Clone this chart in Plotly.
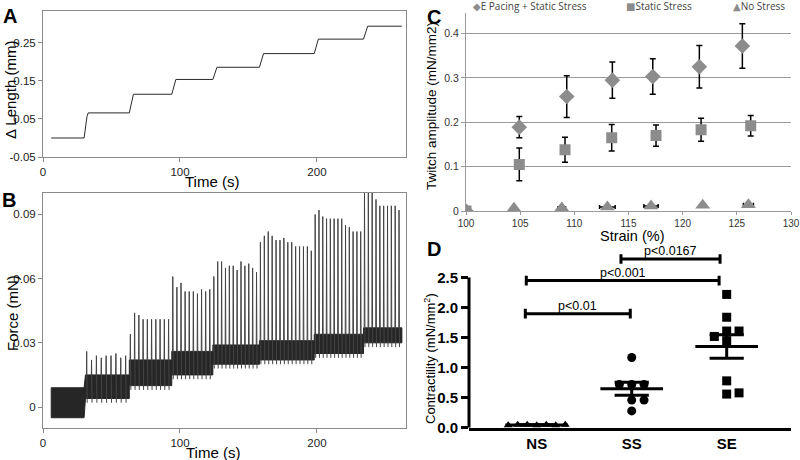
import numpy as np
import plotly.graph_objects as go

W, H = 800, 460
FONT = "Liberation Sans, Arial, sans-serif"

# ---------------- Panel A data ----------------
a_t_start = 6
a_t_end = 262
a_step_times = [30, 63, 94, 124, 158, 198, 234]
a_levels = [0.0, 0.066, 0.115, 0.154, 0.186, 0.222, 0.260, 0.294]

# ---------------- Panel B data ----------------
b_seg_start = [6, 31, 63, 94, 124, 158, 198, 234]
b_seg_end = [30, 63, 94, 124, 158, 198, 234, 262]
b_band_lo = [-0.005, 0.004, 0.010, 0.015, 0.020, 0.022, 0.025, 0.030]
b_band_hi = [0.009, 0.015, 0.022, 0.026, 0.029, 0.031, 0.034, 0.037]
b_peaks = [
    [],
    [0.026, 0.022, 0.024, 0.023, 0.024, 0.024, 0.025, 0.023, 0.024],
    [0.034, 0.044, 0.043, 0.041, 0.041, 0.041, 0.041, 0.041, 0.041, 0.041],
    [0.061, 0.056, 0.058, 0.054, 0.054, 0.054, 0.053, 0.055, 0.054, 0.055],
    [0.061, 0.068, 0.068, 0.065, 0.066, 0.066, 0.064, 0.068, 0.066, 0.067, 0.065, 0.063],
    [0.077, 0.080, 0.082, 0.080, 0.078, 0.078, 0.079, 0.077, 0.077, 0.075, 0.075, 0.075, 0.075, 0.073],
    [0.090, 0.092, 0.089, 0.088, 0.088, 0.088, 0.088, 0.088, 0.085, 0.084, 0.082, 0.082, 0.082],
    [0.104, 0.104, 0.104, 0.097, 0.094, 0.094, 0.094, 0.094, 0.094, 0.092],
]

# ---------------- Panel C data ----------------
c_ep_strain = [100, 104.92, 109.3, 113.51, 117.24, 121.54, 125.51]
c_ep_amp = [0.0, 0.189, 0.258, 0.295, 0.303, 0.325, 0.372]
c_ep_err = [0.0, 0.024, 0.047, 0.041, 0.040, 0.048, 0.050]

c_ss_strain = [100, 104.92, 109.14, 113.45, 117.54, 121.70, 126.28]
c_ss_amp = [0.0, 0.105, 0.138, 0.165, 0.170, 0.183, 0.192]
c_ss_err = [0.0, 0.037, 0.028, 0.030, 0.024, 0.026, 0.023]

c_ns_strain = [104.43, 108.84, 113.05, 117.08, 121.85, 126.07]
c_ns_amp = [0.006, 0.007, 0.009, 0.011, 0.013, 0.014]
c_ns_xerr = [0.0, 0.35, 0.72, 0.66, 0.2, 0.46]
c_ns_yerr = [0.0, 0.003, 0.003, 0.003, 0.002, 0.003]

c_legend = ["E Pacing + Static Stress", "Static Stress", "No Stress"]

# ---------------- Panel D data ----------------
d_groups = ["NS", "SS", "SE"]
d_ns = [0.04, 0.05, 0.05, 0.04, 0.05, 0.05, 0.04]
d_ss = [1.17, 0.72, 0.72, 0.72, 0.46, 0.46, 0.28]
d_se = [2.22, 1.84, 1.61, 1.61, 1.45, 1.52, 0.78, 0.56, 0.58]
d_comparisons = [  # (from, to, height, label)
    (0.88, 1.985, 1.90, "p<0.01"),
    (0.89, 2.92, 2.45, "p<0.001"),
    (1.887, 2.93, 2.81, "p<0.0167"),
]


def dom_x(p0, p1):
    return [p0 / W, p1 / W]


def dom_y(top, bottom):
    return [1 - bottom / H, 1 - top / H]


fig = go.Figure()

# ---- Panel A trace ----
ramp = 3.0
ax_, ay_ = [a_t_start], [a_levels[0]]
for i, t in enumerate(a_step_times):
    ax_ += [t, t + ramp * 0.7, t + ramp]
    ay_ += [a_levels[i], a_levels[i] + 0.85 * (a_levels[i + 1] - a_levels[i]), a_levels[i + 1]]
ax_.append(a_t_end)
ay_.append(a_levels[-1])
fig.add_trace(go.Scatter(x=ax_, y=ay_, mode="lines", line=dict(color="#2a2a2a", width=1),
                         xaxis="x", yaxis="y", showlegend=False, hoverinfo="skip"))

# ---- Panel B traces ----
upper_x, upper_y, lower_x, lower_y = [], [], [], []
for s, e, lo, hi in zip(b_seg_start, b_seg_end, b_band_lo, b_band_hi):
    upper_x += [s, e]
    upper_y += [hi, hi]
    lower_x += [s, e]
    lower_y += [lo, lo]
band_x = upper_x + lower_x[::-1] + [upper_x[0]]
band_y = upper_y + lower_y[::-1] + [upper_y[0]]
fig.add_trace(go.Scatter(x=band_x, y=band_y, mode="lines", fill="toself",
                         fillcolor="#262626", line=dict(color="#262626", width=1),
                         xaxis="x2", yaxis="y2", showlegend=False, hoverinfo="skip"))

sx, sy = [], []
for s, e, lo, hi, pk in zip(b_seg_start, b_seg_end, b_band_lo, b_band_hi, b_peaks):
    n = len(pk)
    if n == 0:
        continue
    per = (e - s) / n
    for k, p in enumerate(pk):
        t = s + (k + 0.25) * per
        sx += [t - 0.2, t, t + 0.35, None]
        sy += [hi, p, lo - 0.002, None]
fig.add_trace(go.Scatter(x=sx, y=sy, mode="lines", line=dict(color="#444444", width=1),
                         xaxis="x2", yaxis="y2", showlegend=False, hoverinfo="skip"))

# ---- Panel C traces ----
grey = "#8c8c8c"
fig.add_trace(go.Scatter(
    x=c_ep_strain, y=c_ep_amp, mode="markers", name=c_legend[0],
    marker=dict(symbol="diamond", size=12, color=grey),
    error_y=dict(type="data", array=c_ep_err, color="black", thickness=1.5, width=3),
    xaxis="x3", yaxis="y3", showlegend=False))
fig.add_trace(go.Scatter(
    x=c_ss_strain, y=c_ss_amp, mode="markers", name=c_legend[1],
    marker=dict(symbol="square", size=11, color=grey),
    error_y=dict(type="data", array=c_ss_err, color="black", thickness=1.5, width=3),
    xaxis="x3", yaxis="y3", showlegend=False))
fig.add_trace(go.Scatter(
    x=c_ns_strain, y=c_ns_amp, mode="markers", name=c_legend[2],
    marker=dict(symbol="triangle-up", size=13, color=grey),
    error_y=dict(type="data", array=c_ns_yerr, color="black", thickness=1.5, width=2),
    error_x=dict(type="data", array=c_ns_xerr, color="black", thickness=1.5, width=2),
    xaxis="x3", yaxis="y3", showlegend=False))

# ---- Panel D traces ----
def beeswarm(vals, d, thr):
    placed = []
    offs = []
    for v in vals:
        cands = [0.0]
        for k in range(1, 8):
            cands += [k * d, -k * d]
        for c in cands:
            ok = all(not (abs(c - po) < d * 0.99 and abs(v - pv) < thr) for po, pv in placed)
            if ok:
                placed.append((c, v))
                offs.append(c)
                break
    return offs

d_sets = [d_ns, d_ss, d_se]
d_symbols = ["triangle-up", "circle", "square"]
d_sizes = [8, 9, 9]
for gi, (vals, sym, sz) in enumerate(zip(d_sets, d_symbols, d_sizes)):
    c = gi + 1
    offs = beeswarm(vals, 0.13 if gi != 0 else 0.1, 0.15)
    fig.add_trace(go.Scatter(x=[c + o for o in offs], y=vals, mode="markers",
                             marker=dict(symbol=sym, size=sz, color="black"),
                             xaxis="x4", yaxis="y4", showlegend=False, cliponaxis=False))
    m = float(np.mean(vals))
    se = float(np.std(vals, ddof=1) / np.sqrt(len(vals)))
    lx = [c - 0.33, c + 0.33, None, c - 0.18, c + 0.18, None, c - 0.18, c + 0.18, None, c, c]
    ly = [m, m, None, m + se, m + se, None, m - se, m - se, None, m - se, m + se]
    fig.add_trace(go.Scatter(x=lx, y=ly, mode="lines", line=dict(color="black", width=3),
                             xaxis="x4", yaxis="y4", showlegend=False, hoverinfo="skip"))

bx, by = [], []
for x0, x1, h, lab in d_comparisons:
    bx += [x0, x0, None, x0, x1, None, x1, x1, None]
    by += [h - 0.08, h + 0.08, None, h, h, None, h - 0.08, h + 0.08, None]
fig.add_trace(go.Scatter(x=bx, y=by, mode="lines", line=dict(color="black", width=3),
                         xaxis="x4", yaxis="y4", showlegend=False, hoverinfo="skip"))

annotations = []
for x0, x1, h, lab in d_comparisons:
    annotations.append(dict(x=(x0 + x1) / 2, y=h, xref="x4", yref="y4", text=lab,
                            showarrow=False, yanchor="bottom", yshift=-1,
                            font=dict(family=FONT, size=12.5, color="black")))

# ---- Layout ----
ab_axis = dict(showline=True, linecolor="#8a8a8a", linewidth=1, mirror=True,
               ticks="outside", ticklen=4, tickcolor="#8a8a8a", showgrid=False, zeroline=False,
               tickfont=dict(family=FONT, size=11.5, color="#222"))

layout = dict(
    width=W, height=H, margin=dict(l=0, r=0, t=0, b=0, autoexpand=False),
    paper_bgcolor="white", plot_bgcolor="white", showlegend=False,
    xaxis=dict(ab_axis, domain=dom_x(43, 406), range=[0, 265], tickvals=[0, 100, 200], anchor="y"),
    yaxis=dict(ab_axis, domain=dom_y(11, 157), range=[-0.05, 0.334],
               tickvals=[-0.05, 0.05, 0.15, 0.25], ticktext=["-0.05", "0.05", "0.15", "0.25"], anchor="x"),
    xaxis2=dict(ab_axis, domain=dom_x(43, 406), range=[0, 265], tickvals=[0, 100, 200], anchor="y2"),
    yaxis2=dict(ab_axis, domain=dom_y(193, 428), range=[-0.0098, 0.1],
                tickvals=[0, 0.03, 0.06, 0.09], ticktext=["0", "0.03", "0.06", "0.09"], anchor="x2"),
    xaxis3=dict(domain=dom_x(466, 791), range=[100, 130], dtick=5, anchor="y3",
                showline=True, linecolor="#9a9a9a", linewidth=1, showgrid=False, zeroline=False,
                ticks="outside", ticklen=3, tickcolor="#9a9a9a",
                tickfont=dict(family=FONT, size=10, color="#333")),
    yaxis3=dict(domain=dom_y(12.7, 211), range=[0, 0.447], tickvals=[0, 0.1, 0.2, 0.3, 0.4],
                ticktext=["0", "0.1", "0.2", "0.3", "0.4"], anchor="x3",
                showline=True, linecolor="#9a9a9a", linewidth=1, showgrid=True,
                gridcolor="#9a9a9a", gridwidth=1, zeroline=False,
                ticks="outside", ticklen=4, tickcolor="#9a9a9a",
                tickfont=dict(family=FONT, size=10.5, color="#333")),
    xaxis4=dict(domain=dom_x(469, 791), range=[0.287, 3.677], tickvals=[1, 2, 3], ticktext=d_groups,
                anchor="y4", showline=True, linecolor="black", linewidth=3, showgrid=False,
                zeroline=False, ticks="",
                tickfont=dict(family=FONT, size=15, color="black", weight="bold")),
    yaxis4=dict(domain=dom_y(253, 427.7), range=[0, 2.91], tickvals=[0, 0.5, 1, 1.5, 2, 2.5],
                tickformat=".1f", anchor="x4", showline=False, showgrid=False, zeroline=False,
                ticks="outside", ticklen=7, tickwidth=3, tickcolor="black",
                tickfont=dict(family=FONT, size=15, color="black", weight="bold")),
)
fig.update_layout(**layout)

# Y axis line of panel D (drawn only up to 2.5)
fig.add_shape(type="line", xref="x4 domain", yref="y4", x0=0, x1=0, y0=0, y1=2.5,
              line=dict(color="black", width=3))

def pa(x, y, text, size, angle=0, bold=False, family=FONT, color="black", xanchor="center"):
    annotations.append(dict(x=x / W, y=1 - y / H, xref="paper", yref="paper", text=text,
                            showarrow=False, textangle=angle, xanchor=xanchor, yanchor="middle",
                            font=dict(family=family, size=size, color=color,
                                      weight="bold" if bold else "normal")))

pa(10, 16, "A", 20, bold=True)
pa(9, 200, "B", 20, bold=True)
pa(434, 17, "C", 20, bold=True)
pa(434, 249, "D", 20, bold=True)
pa(11, 90, "Δ Length (mm)", 15, angle=-90)
pa(212, 181, "Time (s)", 15)
pa(12, 313, "Force (mN)", 15, angle=-90)
pa(213, 452, "Time (s)", 15)
pa(431, 106, "Twitch amplitude (mN/mm2)", 13.5, angle=-90)
pa(632, 236, "Strain (%)", 14.5)
pa(430, 359, "Contractility (mN/mm<sup>2</sup>)", 13, angle=-90,
   family="Liberation Sans Narrow, Liberation Sans, Arial")

# Legend of panel C (symbol glyph + label)
leg_syms = ["◆", "■", "▲"]
leg_x = [471, 624, 731]
for sym, lab, lx in zip(leg_syms, c_legend, leg_x):
    pa(lx, 6, f"<span style='color:{grey}'>{sym}</span>{lab}", 10,
       family="Open Sans, DejaVu Sans, sans-serif", color="#444", xanchor="left")

fig.update_layout(annotations=annotations)
fig.write_html("out.html", config={"displayModeBar": False},
               post_script="document.body.style.margin='0px';")
